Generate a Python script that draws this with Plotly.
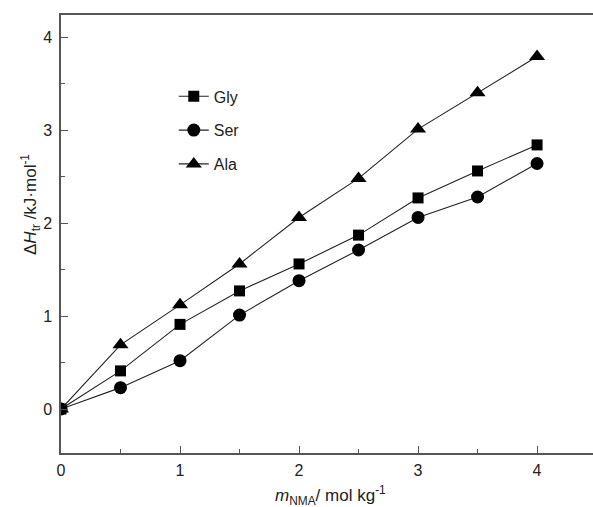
import plotly.graph_objects as go

m_nma = [0, 0.5, 1.0, 1.5, 2.0, 2.5, 3.0, 3.5, 4.0]
gly = [0, 0.41, 0.91, 1.27, 1.56, 1.87, 2.27, 2.56, 2.84]
ser = [0, 0.23, 0.52, 1.01, 1.38, 1.71, 2.06, 2.28, 2.64]
ala = [0, 0.69, 1.12, 1.56, 2.06, 2.48, 3.01, 3.40, 3.79]

x_ticks = [0, 1, 2, 3, 4]
y_ticks = [0, 1, 2, 3, 4]
minor_ticks = [0.5, 1.5, 2.5, 3.5]

series = [("Gly", gly, "square", 11), ("Ser", ser, "circle", 13), ("Ala", ala, "triangle-up", 14)]

FONT = "Liberation Sans, Arial, sans-serif"
INK = "#222222"
AX = "#555555"

fig = go.Figure()
for name, vals, sym, sz in series:
    fig.add_trace(go.Scatter(
        x=m_nma, y=vals, name=name, mode="lines+markers",
        legendgroup=name,
        line=dict(color=INK, width=1.1),
        marker=dict(symbol=sym, size=sz, color="black", line=dict(width=0)),
    ))

fig.update_layout(
    width=593, height=507,
    margin=dict(l=61, r=0, t=15, b=54, autoexpand=False),
    paper_bgcolor="white", plot_bgcolor="white",
    font=dict(family=FONT, size=16, color=INK),
    showlegend=True,
    legend=dict(
        x=0.212, y=0.853, xanchor="left", yanchor="top",
        bgcolor="rgba(0,0,0,0)", font=dict(size=16, family=FONT, color=INK),
        tracegroupgap=10, traceorder="grouped", itemwidth=30,
    ),
    xaxis=dict(
        range=[0, 4.47], tickmode="array", tickvals=x_ticks,
        ticks="inside", ticklen=7, tickwidth=1.2, tickcolor=AX,
        showline=True, linecolor=AX, linewidth=1.5, mirror=True,
        showgrid=False, zeroline=False, automargin=False,
        minor=dict(tickvals=minor_ticks, ticks="inside", ticklen=4, tickcolor=AX, tickwidth=1.2),
        tickfont=dict(size=16, color=INK), ticklabelstandoff=2,
    ),
    yaxis=dict(
        range=[-0.473, 4.237], tickmode="array", tickvals=y_ticks,
        ticks="inside", ticklen=7, tickwidth=1.2, tickcolor=AX,
        showline=True, linecolor=AX, linewidth=1.5, mirror=False,
        showgrid=False, zeroline=False, automargin=False,
        minor=dict(tickvals=minor_ticks, ticks="inside", ticklen=4, tickcolor=AX, tickwidth=1.2),
        tickfont=dict(size=16, color=INK), ticklabelstandoff=4,
    ),
    annotations=[
        dict(text="<i>m</i><sub>NMA</sub>/ mol kg<sup>-1</sup>", xref="paper", yref="paper",
             x=(330 - 61) / 532, y=-(495 - 453) / 438, xanchor="center", yanchor="middle",
             showarrow=False, font=dict(size=17, family=FONT, color=INK)),
        dict(text="Δ<i>H</i><sub>tr</sub> /kJ·mol<sup>-1</sup>", xref="paper", yref="paper",
             x=-(61 - 30) / 532, y=(453 - 205) / 438, xanchor="center", yanchor="middle",
             textangle=-90, showarrow=False, font=dict(size=17, family=FONT, color=INK)),
    ],
)

fig.write_html("out.html", config={"displayModeBar": False},
               post_script="document.body.style.margin='0';document.body.style.padding='0';")
